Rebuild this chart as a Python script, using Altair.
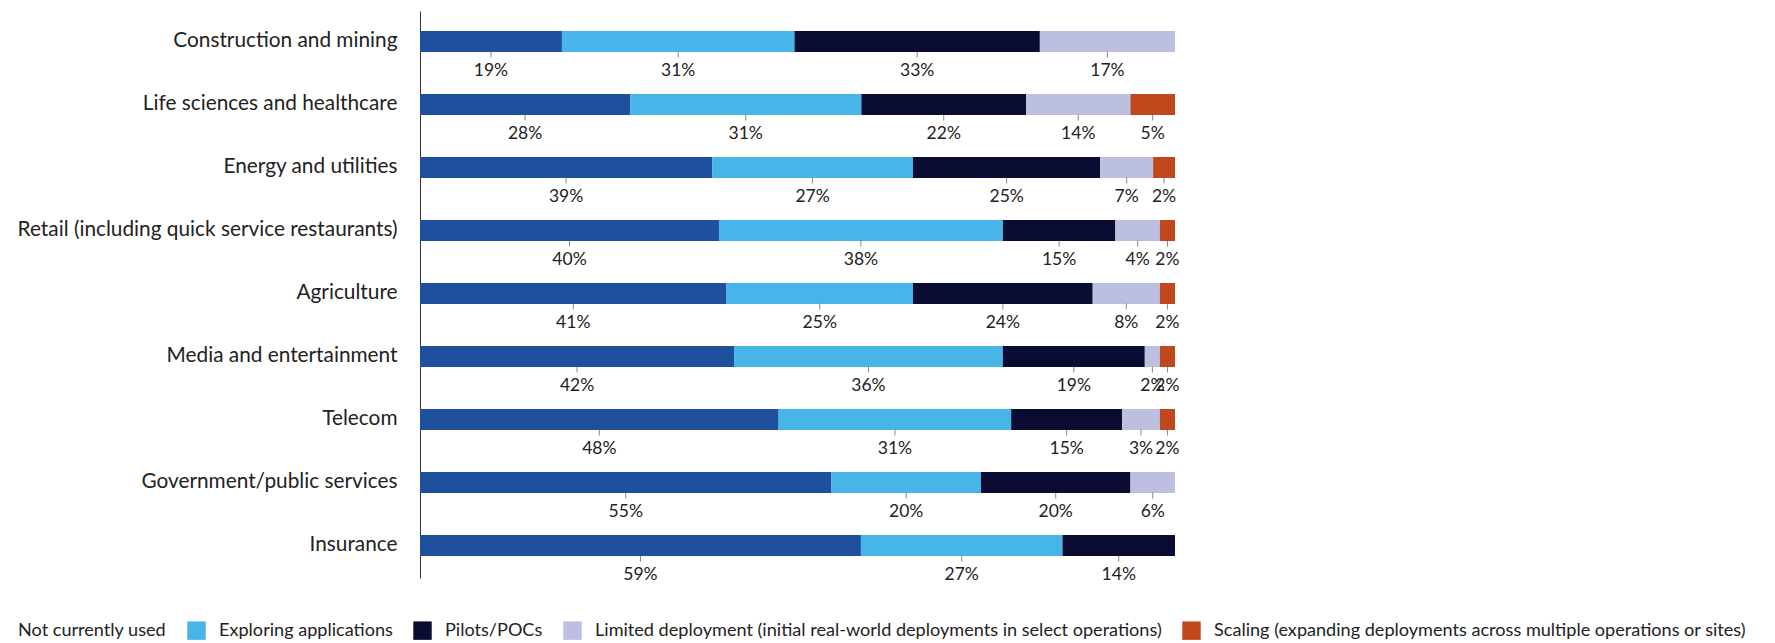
import altair as alt
import pandas as pd

industries = [
    "Construction and mining",
    "Life sciences and healthcare",
    "Energy and utilities",
    "Retail (including quick service restaurants)",
    "Agriculture",
    "Media and entertainment",
    "Telecom",
    "Government/public services",
    "Insurance",
]
stages = [
    "Not currently used",
    "Exploring applications",
    "Pilots/POCs",
    "Limited deployment (initial real-world deployments in select operations)",
    "Scaling (expanding deployments across multiple operations or sites)",
]
# segment shares (percent of each bar)
not_used = [18.8, 27.8, 38.7, 39.6, 40.6, 41.6, 47.5, 54.5, 58.4]
exploring = [30.8, 30.6, 26.6, 37.6, 24.7, 35.6, 30.8, 19.8, 26.7]
pilots = [32.5, 21.8, 24.8, 14.9, 23.8, 18.8, 14.7, 19.8, 14.9]
limited = [17.9, 13.8, 7.0, 5.9, 8.9, 2.0, 5.0, 5.9, 0]
scaling = [0, 5.9, 2.9, 2.0, 2.0, 2.0, 2.0, 0, 0]
# percentages printed under the segments
not_used_lbl = [19, 28, 39, 40, 41, 42, 48, 55, 59]
exploring_lbl = [31, 31, 27, 38, 25, 36, 31, 20, 27]
pilots_lbl = [33, 22, 25, 15, 24, 19, 15, 20, 14]
limited_lbl = [17, 14, 7, 4, 8, 2, 3, 6, 0]
scaling_lbl = [0, 5, 2, 2, 2, 2, 2, 0, 0]
colors = ["#1F509E", "#47B5E8", "#0A0C33", "#BDBFE0", "#C0481C"]

series = [not_used, exploring, pilots, limited, scaling]
series_lbl = [not_used_lbl, exploring_lbl, pilots_lbl, limited_lbl, scaling_lbl]
rows = []
for si, (stage, vals, lbls) in enumerate(zip(stages, series, series_lbl)):
    for ind, v, l in zip(industries, vals, lbls):
        if v > 0:
            rows.append({"industry": ind, "stage": stage, "order": si, "value": v,
                         "label": f"{l}%"})
df = pd.DataFrame(rows)

FONT = "Lato"

base = alt.Chart(df).transform_stack(
    stack="value", as_=["x0", "x1"], groupby=["industry"],
    sort=[alt.SortField("order", order="ascending")], offset="normalize"
).transform_calculate(mid="(datum.x0 + datum.x1) / 2")

xscale = alt.Scale(domain=[0, 1], nice=False, zero=False)
yenc = alt.Y("industry:N", sort=industries,
             scale=alt.Scale(paddingInner=0, paddingOuter=0),
             axis=alt.Axis(title=None, ticks=False, labelFontSize=20.8, labelFont=FONT,
                           labelColor="#222222", labelPadding=23, domainColor="#333333",
                           labelLimit=0, domainWidth=1, labelOffset=-2))

bars = base.mark_bar(height=21, yOffset=-1).encode(
    x=alt.X("x0:Q", scale=xscale, axis=None),
    x2="x1:Q",
    y=yenc,
    color=alt.Color("stage:N", scale=alt.Scale(domain=stages, range=colors),
                    legend=alt.Legend(orient="none", legendX=-434, legendY=610,
                                      direction="horizontal", title=None,
                                      symbolType="square", symbolSize=340,
                                      labelFontSize=18.1, labelFont=FONT, labelColor="#222222",
                                      labelOffset=13, columnPadding=20,
                                      symbolStrokeWidth=0, labelLimit=0, padding=0,
                                      symbolOpacity=1)),
    order=alt.Order("order:Q"),
)

ticks = base.mark_tick(size=6, thickness=1, yOffset=12, color="#555555").encode(
    x=alt.X("mid:Q", scale=xscale, axis=None),
    y=alt.Y("industry:N", sort=industries),
)

labels = base.mark_text(dy=28, fontSize=17.5, font=FONT, color="#222222").encode(
    x=alt.X("mid:Q", scale=xscale, axis=None),
    y=alt.Y("industry:N", sort=industries),
    text="label:N",
)

chart = alt.layer(bars, ticks, labels).properties(
    width=755, height=567,
    autosize=alt.AutoSizeParams(type="none"),
    padding={"left": 412, "top": 3, "right": 590, "bottom": 64},
).configure_view(stroke=None)

chart.save("out.html", embed_options={"renderer": "svg", "actions": False})
